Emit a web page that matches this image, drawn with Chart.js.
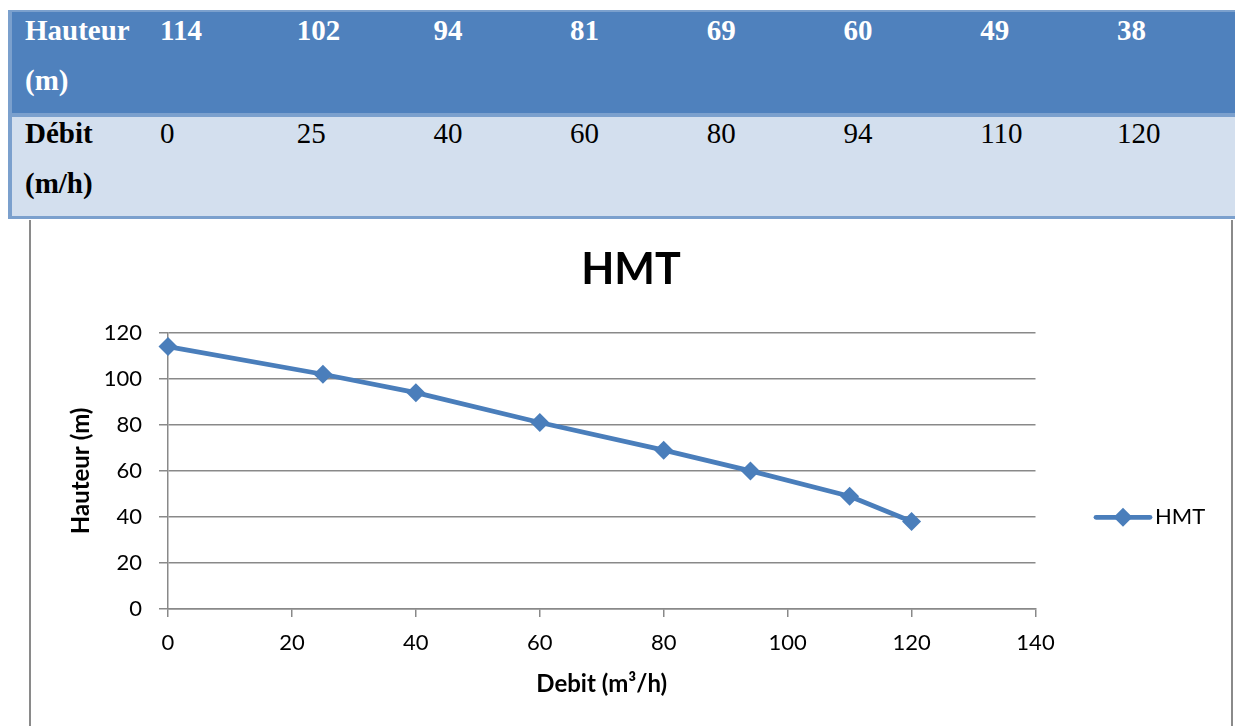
<!DOCTYPE html>
<html><head><meta charset="utf-8">
<script src="https://cdn.jsdelivr.net/npm/chart.js@4.4.1/dist/chart.umd.min.js"></script>
<style>
html,body{margin:0;padding:0;background:#fff;width:1235px;height:726px;overflow:hidden;position:relative;}
#tbl{position:absolute;left:8px;top:10px;width:1240px;height:209px;background:#7ba0cd;}
.row{position:absolute;left:4px;right:0;}
#r1{top:2px;height:101px;background:#4f81bd;}
#r2{top:107px;height:99px;background:#d3dfee;}
.cell{position:absolute;font-family:"Liberation Serif","Times New Roman",serif;font-size:29px;line-height:50px;white-space:nowrap;}
.h{color:#fff;font-weight:bold;}
.d{color:#000;}
.b{font-weight:bold;}
#chartBox{position:absolute;left:29px;top:220px;width:1200px;height:506px;border-left:2px solid #8a8a8a;border-right:2px solid #8a8a8a;}
canvas{display:block;}
</style></head>
<body>
<div id="tbl"><div class="row" id="r1"></div><div class="row" id="r2"></div></div>
<div id="cells"></div>
<div id="chartBox"><canvas id="c" width="1200" height="506"></canvas></div>
<script>
// Data
const debit = [0, 25, 40, 60, 80, 94, 110, 120];
const hauteur = [114, 102, 94, 81, 69, 60, 49, 38];
const rowLabels = ["Hauteur<br>(m)", "Débit<br>(m/h)"];
const seriesName = "HMT";
const xTitle = "Debit (m³/h)";
const yTitle = "Hauteur (m)";

// Table
const cells = document.getElementById('cells');
function addCell(html, left, top, cls){
  const d = document.createElement('div');
  d.className = 'cell ' + cls;
  d.style.left = left + 'px';
  d.style.top = top + 'px';
  d.innerHTML = html;
  cells.appendChild(d);
}
addCell(rowLabels[0], 25, 5.2, 'h');
addCell(rowLabels[1], 25, 108.2, 'd b');
hauteur.forEach((v, i) => addCell(String(v), 160 + i * 136.7, 5.2, 'h'));
debit.forEach((v, i) => addCell(String(v), 160 + i * 136.7, 108.2, 'd'));

// Chart
const blue = '#4a7ebb';
const gridC = '#898989';
const sideLegend = {
  id: 'sideLegend',
  afterDraw(chart){
    const ctx = chart.ctx, ca = chart.chartArea, ds = chart.data.datasets[0];
    const cx = ca.right + 87.5, cy = ca.top + 184.5;
    ctx.save();
    ctx.strokeStyle = ds.borderColor; ctx.lineWidth = ds.borderWidth; ctx.lineCap = 'round';
    ctx.beginPath(); ctx.moveTo(cx - 27, cy); ctx.lineTo(cx + 27, cy); ctx.stroke();
    ctx.fillStyle = ds.pointBackgroundColor;
    Chart.helpers.drawPoint(ctx, {pointStyle: 'rectRot', radius: ds.pointRadius, borderWidth: 0, rotation: 0}, cx, cy);
    ctx.fillStyle = '#000';
    ctx.font = '22px Lato';
    ctx.textBaseline = 'middle';
    ctx.textAlign = 'left';
    ctx.fillText(ds.label, cx + 32, cy);
    ctx.restore();
  }
};

new Chart(document.getElementById('c'), {
  type: 'line',
  data: {
    datasets: [{
      label: seriesName,
      data: debit.map((x, i) => ({x: x, y: hauteur[i]})),
      borderColor: blue,
      backgroundColor: blue,
      pointBackgroundColor: blue,
      pointBorderColor: blue,
      borderWidth: 4.75,
      pointStyle: 'rectRot',
      pointRadius: 9.5,
      pointBorderWidth: 0,
      tension: 0,
      borderCapStyle: 'round',
      borderJoinStyle: 'round',
      clip: false,
      fill: false
    }]
  },
  options: {
    responsive: false,
    animation: false,
    layout: {padding: 0},
    plugins: {
      legend: {display: false},
      tooltip: {enabled: false},
      title: {
        display: true, text: seriesName, color: '#000',
        font: {family: 'Lato', size: 43, weight: 'bold', lineHeight: 1.2},
        padding: {top: 24.5, bottom: 36.7}
      }
    },
    scales: {
      x: {
        type: 'linear', min: 0, max: 140,
        ticks: {stepSize: 20, color: '#000', font: {family: 'Lato', size: 22}, padding: 12.5, maxRotation: 0},
        grid: {drawOnChartArea: false, drawTicks: true, tickLength: 8, color: gridC, lineWidth: 1.5},
        border: {display: true, color: gridC, width: 1.5},
        title: {display: true, text: xTitle, color: '#000', font: {family: 'Lato', size: 24, weight: 'bold', lineHeight: 1.2}, padding: {top: 0, bottom: 27.6}},
        afterFit: s => { s.height = 117; }
      },
      y: {
        min: 0, max: 120,
        ticks: {stepSize: 20, color: '#000', font: {family: 'Lato', size: 22}, padding: 17},
        grid: {drawOnChartArea: true, drawTicks: true, tickLength: 9, color: gridC, lineWidth: 1.5},
        border: {display: true, color: gridC, width: 1.5},
        title: {display: true, text: yTitle, color: '#000', font: {family: 'Lato', size: 24, weight: 'bold', lineHeight: 1.2}, padding: {top: 35.6, bottom: 0}},
        afterFit: s => { s.width = 137; }
      },
      legendSpace: {
        type: 'linear', position: 'right', min: 0, max: 1,
        ticks: {display: false},
        grid: {display: false},
        border: {display: false},
        title: {display: false},
        afterFit: s => { s.width = 195.5; }
      }
    }
  },
  plugins: [sideLegend]
});
</script>
</body></html>
